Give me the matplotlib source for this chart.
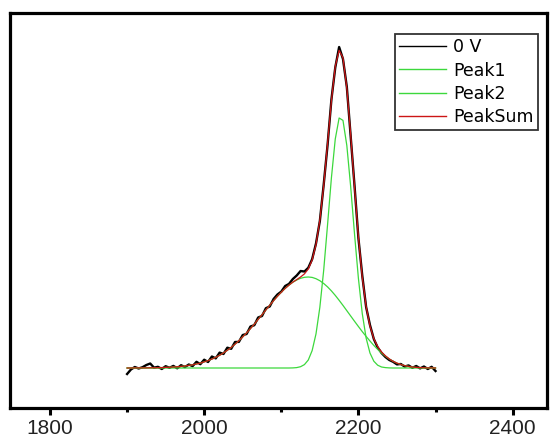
import matplotlib
matplotlib.use("Agg")
import matplotlib.pyplot as plt
from matplotlib.ticker import FixedLocator

plt.rcParams['font.family'] = ['Liberation Sans', 'DejaVu Sans']

# wavenumber grid (step 5)
wavenumber = list(range(1900, 2305, 5))

data_0v = [-6.0, -1.5, 1.0, -0.5, 0.8, 3.0, 4.5, 0.3, 1.2, -1.0,
           1.8, 0.2, 2.1, -0.3, 2.8, 0.9, 3.5, 1.9, 6.2, 3.8,
           8.3, 6.0, 11.5, 9.6, 15.4, 14.0, 20.3, 19.2, 26.0, 26.1,
           33.0, 34.0, 41.5, 42.8, 50.5, 52.0, 59.8, 61.5, 69.0, 73.5,
           76.4, 82.0, 84.1, 89.0, 92.5, 97.0, 96.5, 100.2, 108.8, 124.5,
           147.0, 183.5, 223.0, 268.5, 300.5, 321.0, 309.0, 281.0, 231.5, 182.0,
           130.0, 92.5, 61.0, 43.0, 29.0, 20.5, 15.0, 11.0, 8.0, 6.2,
           3.6, 4.0, 1.4, 2.6, 0.2, 2.0, -0.4, 1.5, -1.0, 1.2,
           -3.0]

peak1 = [0.0] * 43 + [0.1, 0.4, 1.3, 3.4, 8.0, 17.4, 34.1, 60.7, 97.9, 143.3,
                      190.2, 229.0, 250.0, 247.6, 222.4, 181.2, 133.8, 89.7, 54.5, 30.0,
                      15.0, 6.8, 2.8, 1.0, 0.4, 0.1] + [0.0] * 12

peak2 = [0.0, 0.0, 0.1, 0.1, 0.1, 0.1, 0.2, 0.2, 0.3, 0.4,
         0.6, 0.7, 1.0, 1.2, 1.6, 2.0, 2.6, 3.2, 4.0, 4.9,
         6.1, 7.4, 8.9, 10.7, 12.7, 15.1, 17.7, 20.6, 23.8, 27.3,
         31.1, 35.2, 39.4, 43.9, 48.6, 53.3, 58.0, 62.8, 67.3, 71.7,
         75.8, 79.6, 82.9, 85.8, 88.0, 89.7, 90.7, 91.0, 90.6, 89.3,
         87.3, 84.5, 81.1, 77.1, 72.6, 67.7, 62.6, 57.3, 52.0, 46.7,
         41.5, 36.4, 31.6, 27.0, 22.6, 18.6, 15.0, 11.8, 9.0, 6.7,
         4.9, 3.5, 2.4, 1.6, 1.0, 0.6, 0.4, 0.2, 0.1, 0.1,
         0.0]

peak_sum = [0.0, 0.0, 0.1, 0.1, 0.1, 0.1, 0.2, 0.2, 0.3, 0.4,
            0.6, 0.7, 1.0, 1.2, 1.6, 2.0, 2.6, 3.2, 4.0, 4.9,
            6.1, 7.4, 8.9, 10.7, 12.7, 15.1, 17.7, 20.6, 23.8, 27.3,
            31.1, 35.2, 39.4, 43.9, 48.6, 53.3, 58.0, 62.8, 67.3, 71.7,
            75.8, 79.6, 82.9, 85.9, 88.4, 91.0, 94.1, 99.0, 108.0, 123.4,
            148.0, 182.4, 224.4, 267.3, 301.6, 317.7, 310.2, 279.7, 233.2, 180.5,
            131.2, 90.9, 61.6, 42.0, 29.4, 21.4, 16.0, 12.2, 9.1, 6.7,
            4.9, 3.5, 2.4, 1.6, 1.0, 0.6, 0.4, 0.2, 0.1, 0.1,
            0.0]

series_labels = ["0 V", "Peak1", "Peak2", "PeakSum"]
major_ticks = [1800, 2000, 2200, 2400]
minor_ticks = [1900, 2100, 2300]

fig = plt.figure(figsize=(5.5, 4.41), dpi=100)
ax = fig.add_axes([9.5 / 550, 1 - 408 / 441, (547 - 9.5) / 550, (408 - 13) / 441])

green = '#3cd83c'
ax.plot(wavenumber, data_0v, color='black', lw=1.7, label=series_labels[0], zorder=2)
ax.plot(wavenumber, peak1, color=green, lw=0.9, label=series_labels[1], zorder=3)
ax.plot(wavenumber, peak2, color=green, lw=0.9, label=series_labels[2], zorder=3)
ax.plot(wavenumber, peak_sum, color='#cc1515', lw=0.9, label=series_labels[3], zorder=4)

ax.set_xlim(1747.5, 2444.6)
ax.set_ylim(-40, 355)

for s in ax.spines.values():
    s.set_linewidth(2.3)
    s.set_color('black')

ax.xaxis.set_major_locator(FixedLocator(major_ticks))
ax.xaxis.set_minor_locator(FixedLocator(minor_ticks))
ax.tick_params(axis='x', which='major', direction='out', length=5, width=2.2,
               labelsize=15, pad=3, labelcolor='#222222')
ax.tick_params(axis='x', which='minor', direction='out', length=3, width=2.2)
ax.tick_params(axis='y', left=False, labelleft=False)
ax.tick_params(top=False, right=False)

leg = ax.legend(loc='upper right', bbox_to_anchor=((538 - 9.5) / 537.5, (408 - 34) / 395),
                borderaxespad=0, fancybox=False, framealpha=1, edgecolor='#333333',
                prop={'family': 'DejaVu Sans', 'size': 12.5}, handlelength=2.7,
                handletextpad=0.4, labelspacing=0.3, borderpad=0.25)
leg.get_frame().set_linewidth(1.3)
for h in leg.get_lines():
    h.set_linewidth(1.0)

fig.savefig('out.png', dpi=100)
